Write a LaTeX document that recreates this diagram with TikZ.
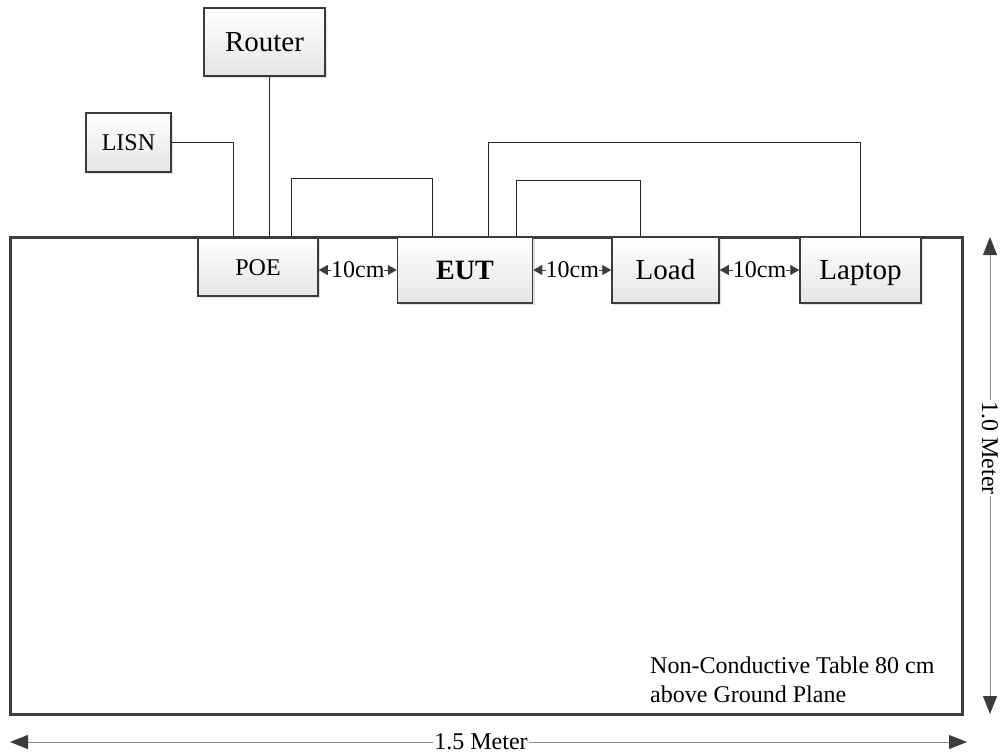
\documentclass[tikz,border=0pt]{standalone}
\usepackage{fontspec}
\setmainfont{Liberation Serif}
\usetikzlibrary{arrows.meta,shadows}
\definecolor{boxline}{HTML}{3C3C3C}
\definecolor{dimgray}{HTML}{8A8A8A}
\tikzset{
  devbox/.style={draw=boxline, line width=1.5pt, rectangle, inner sep=0pt,
    top color=white, bottom color=black!10,
    drop shadow={shadow xshift=2pt, shadow yshift=-2pt, fill=black!12, opacity=1},
    text height=19pt, text depth=0pt,
    font=\fontsize{29}{34}\selectfont},
  smallbox/.style={devbox, text height=16pt, font=\fontsize{24}{29}\selectfont},
  wire/.style={draw=black!85, line width=0.9pt},
  gap/.style={draw=boxline, line width=0.6pt, {Triangle[length=9pt,width=10pt]}-{Triangle[length=9pt,width=10pt]}},
  dimline/.style={draw=dimgray, line width=1pt, {Triangle[length=18pt,width=14pt,fill=boxline,color=boxline]}-{Triangle[length=18pt,width=14pt,fill=boxline,color=boxline]}},
  lbl/.style={font=\fontsize{24}{29}\selectfont, inner sep=1pt, fill=white},
}
\begin{document}
\begin{tikzpicture}[x=1pt,y=-1pt]
\useasboundingbox (0,0) rectangle (1001,755);
% table
\draw[draw=boxline, line width=3pt] (10,237) rectangle (962,714);
% devices
\node[devbox, minimum width=121pt, minimum height=68pt] (router) at (264.5,42) {Router};
\node[smallbox, minimum width=85pt, minimum height=59pt] (lisn) at (128.5,142.5) {LISN};
\node[smallbox, minimum width=120pt, minimum height=58pt] (poe) at (258,267) {POE};
\node[devbox, minimum width=135pt, minimum height=66pt, font=\fontsize{28}{34}\selectfont\bfseries] (eut) at (465,270) {EUT};
\node[devbox, minimum width=107pt, minimum height=66pt] (load) at (665.5,270) {Load};
\node[devbox, minimum width=121pt, minimum height=66pt] (laptop) at (860.5,270) {Laptop};
% wires
\draw[wire] (lisn.east) -| ([xshift=-25pt]poe.north);
\draw[wire] ([xshift=4.5pt]router.south) -- ([xshift=11pt]poe.north);
\draw[wire] ([xshift=33pt]poe.north) -- ++(0,-59) -| ([xshift=-33pt]eut.north);
\draw[wire] ([xshift=23pt]eut.north) -- ++(0,-94) -| (laptop.north);
\draw[wire] ([xshift=51pt]eut.north) -- ++(0,-56) -| ([xshift=-25.5pt]load.north);
% spacing arrows
\draw[gap] (poe.east |- 0,270) -- (eut.west) node[midway, lbl, inner sep=0pt] {10cm};
\draw[gap] (eut.east) -- (load.west) node[midway, lbl, inner sep=0pt] {10cm};
\draw[gap] (load.east) -- (laptop.west) node[midway, lbl, inner sep=0pt] {10cm};
% dimensions
\coordinate (vtop) at (990,237);
\coordinate (vbot) at (990,714);
\coordinate (hleft) at (10,742);
\coordinate (hright) at (967,742);
\draw[dimline] (vtop) -- (vbot);
\node[lbl, rotate=-90] (vlabel) at (990,448) {1.0 Meter};
\draw[dimline] (hleft) -- (hright);
\node[lbl] (hlabel) at (481,742) {1.5 Meter};
% note
\node[anchor=north west, align=left, inner sep=0pt, font=\fontsize{24}{29}\selectfont] (note) at (650,657) {Non-Conductive Table 80 cm\\above Ground Plane};
\end{tikzpicture}
\end{document}
